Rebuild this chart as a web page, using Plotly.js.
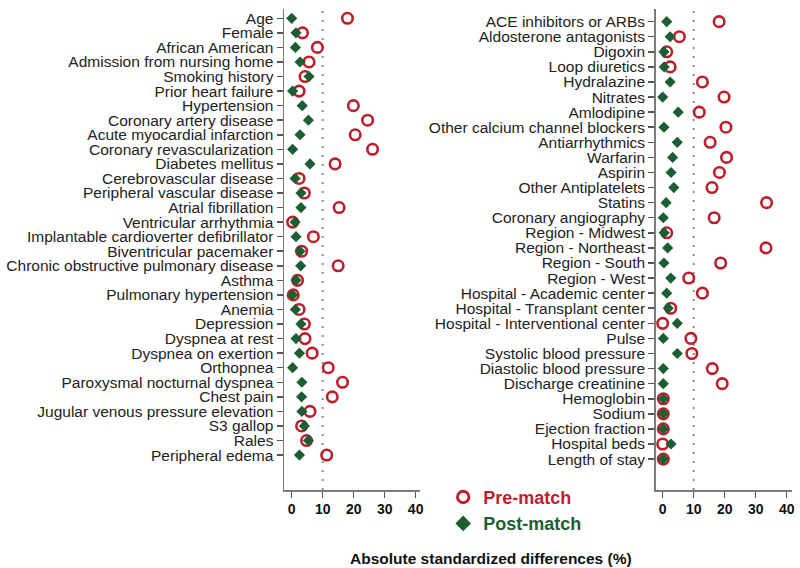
<!DOCTYPE html>
<html>
<head>
<meta charset="utf-8">
<script src="https://cdn.plot.ly/plotly-3.0.1.min.js"></script>
<style>html,body{margin:0;padding:0;background:#fff;}#chart{width:800px;height:568px;}</style>
</head>
<body>
<div id="chart"></div>
<script>
// ---- data (absolute standardized differences, %) ----
var leftLabels = [
  "Age","Female","African American","Admission from nursing home","Smoking history",
  "Prior heart failure","Hypertension","Coronary artery disease","Acute myocardial infarction",
  "Coronary revascularization","Diabetes mellitus","Cerebrovascular disease",
  "Peripheral vascular disease","Atrial fibrillation","Ventricular arrhythmia",
  "Implantable cardioverter defibrillator","Biventricular pacemaker",
  "Chronic obstructive pulmonary disease","Asthma","Pulmonary hypertension","Anemia",
  "Depression","Dyspnea at rest","Dyspnea on exertion","Orthopnea",
  "Paroxysmal nocturnal dyspnea","Chest pain","Jugular venous pressure elevation",
  "S3 gallop","Rales","Peripheral edema"
];
var leftPre = [18.0,3.5,8.3,5.6,4.3,2.4,19.9,24.5,20.5,26.1,14.0,2.4,4.1,15.3,0.3,7.0,3.2,15.0,1.9,0.5,2.4,4.1,4.3,6.6,11.8,16.4,13.1,5.9,3.2,4.8,11.3];
var leftPost = [0.0,1.4,1.2,2.7,5.6,0.3,3.4,5.4,2.7,0.3,5.9,1.1,3.0,3.0,1.1,1.4,2.7,2.9,1.4,0.3,1.2,3.0,1.4,2.5,0.3,3.3,3.2,3.3,4.1,5.4,2.5];

var rightLabels = [
  "ACE inhibitors or ARBs","Aldosterone antagonists","Digoxin","Loop diuretics","Hydralazine",
  "Nitrates","Amlodipine","Other calcium channel blockers","Antiarrhythmics","Warfarin",
  "Aspirin","Other Antiplatelets","Statins","Coronary angiography","Region - Midwest",
  "Region - Northeast","Region - South","Region - West","Hospital - Academic center",
  "Hospital - Transplant center","Hospital - Interventional center","Pulse",
  "Systolic blood pressure","Diastolic blood pressure","Discharge creatinine","Hemoglobin",
  "Sodium","Ejection fraction","Hospital beds","Length of stay"
];
var rightPre = [18.2,5.4,1.3,2.4,12.8,19.8,11.8,20.4,15.3,20.6,18.3,15.9,33.5,16.6,1.3,33.3,18.7,8.4,12.8,2.6,0.0,9.1,9.4,16.0,19.2,0.2,0.2,0.2,0.0,0.2];
var rightPost = [1.3,2.4,0.4,0.5,2.4,0.0,5.0,0.4,4.7,3.2,2.7,3.6,1.1,0.2,0.5,1.6,0.4,2.6,1.3,1.8,4.7,0.2,4.7,0.2,0.2,0.2,0.2,0.2,2.7,0.2];

var xTicks = [0,10,20,30,40];
var seriesNames = ["Pre-match","Post-match"];
var threshold = 10;
var xTitle = "Absolute standardized differences (%)";

// ---- styles ----
var RED = "#bd1e2c", GREEN = "#1b5e32";
var preMarker = {symbol:"circle-open", size:10.5, color:RED, line:{color:RED, width:2.6}};
var postMarker = {symbol:"diamond", size:8.6, color:GREEN, line:{width:0}};

var traces = [
  {x:leftPre, y:leftLabels, xaxis:"x", yaxis:"y", mode:"markers", type:"scatter", marker:preMarker, showlegend:false, cliponaxis:false},
  {x:leftPost, y:leftLabels, xaxis:"x", yaxis:"y", mode:"markers", type:"scatter", marker:postMarker, showlegend:false, cliponaxis:false},
  {x:rightPre, y:rightLabels, xaxis:"x2", yaxis:"y2", mode:"markers", type:"scatter", marker:preMarker, showlegend:false, cliponaxis:false},
  {x:rightPost, y:rightLabels, xaxis:"x2", yaxis:"y2", mode:"markers", type:"scatter", marker:postMarker, showlegend:false, cliponaxis:false},
  // legend proxies
  {x:[null], y:[null], xaxis:"x", yaxis:"y", mode:"markers", type:"scatter", name:'<span style="color:'+RED+'">'+seriesNames[0]+'</span>',
   marker:{symbol:"circle-open", size:11.5, color:RED, line:{color:RED, width:2.8}}},
  {x:[null], y:[null], xaxis:"x", yaxis:"y", mode:"markers", type:"scatter", name:'<span style="color:'+GREEN+'">'+seriesNames[1]+'</span>',
   marker:{symbol:"diamond", size:12, color:GREEN, line:{width:0}}}
];

var xCommon = {
  tickvals:xTicks, ticks:"outside", ticklen:6, tickwidth:1.5, tickcolor:"#555",
  showline:true, linecolor:"#7a7a7a", linewidth:1.5, showgrid:false, zeroline:false,
  tickfont:{family:"Arial, Liberation Sans, sans-serif", size:14, weight:"bold", color:"#111"},
  fixedrange:true
};
var yCommon = {
  type:"category", tickmode:"array", ticks:"outside", ticklen:6, tickwidth:1.5, tickcolor:"#555",
  showline:true, linecolor:"#7a7a7a", linewidth:1.5, showgrid:false, zeroline:false,
  tickfont:{family:"Arial, Liberation Sans, sans-serif", size:15.5, color:"#222"},
  domain:[0.1373, 0.9842], fixedrange:true
};

var layout = {
  width:800, height:568,
  margin:{l:0, r:0, t:0, b:0},
  paper_bgcolor:"#fff", plot_bgcolor:"#fff",
  xaxis:Object.assign({}, xCommon, {domain:[0.355, 0.5246], range:[-2.48, 41.3], anchor:"y"}),
  yaxis:Object.assign({}, yCommon, {range:[32.4, -0.64], anchor:"x", tickvals:leftLabels, ticktext:leftLabels}),
  xaxis2:Object.assign({}, xCommon, {domain:[0.8196, 0.9896], range:[-2.26, 41.6], anchor:"y2"}),
  yaxis2:Object.assign({}, yCommon, {range:[31.05, -0.84], anchor:"x2", tickvals:rightLabels, ticktext:rightLabels}),
  shapes:[
    {type:"line", xref:"x", yref:"y domain", x0:threshold, x1:threshold, y0:0, y1:1, layer:"below",
     line:{color:"#8c8c8c", width:2, dash:"2px,7px"}},
    {type:"line", xref:"x2", yref:"y2 domain", x0:threshold, x1:threshold, y0:0, y1:1, layer:"below",
     line:{color:"#8c8c8c", width:2, dash:"2px,7px"}}
  ],
  showlegend:true,
  legend:{x:0.554, y:0.157, xanchor:"left", yanchor:"top", bgcolor:"rgba(0,0,0,0)",
          font:{family:"Arial, Liberation Sans, sans-serif", size:18, weight:"bold"},
          itemwidth:30, tracegroupgap:0},
  annotations:[
    {text:xTitle, xref:"paper", yref:"paper", x:0.614, y:1-558/568, xanchor:"center", yanchor:"middle",
     showarrow:false, font:{family:"Arial, Liberation Sans, sans-serif", size:15.5, weight:"bold", color:"#111"}}
  ]
};

Plotly.newPlot("chart", traces, layout, {displayModeBar:false, staticPlot:true});
</script>
</body>
</html>
